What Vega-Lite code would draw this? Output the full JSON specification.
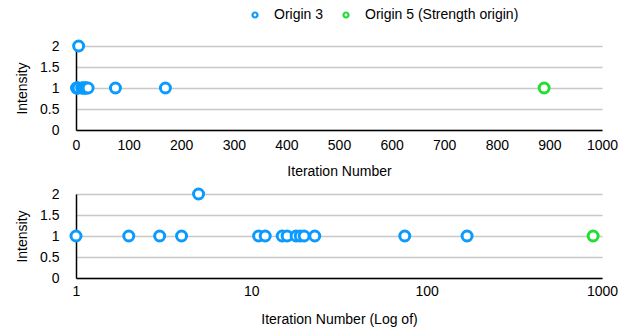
{
  "$schema": "https://vega.github.io/schema/vega-lite/v6.json",
  "padding": {"left": 15, "top": 8, "right": 5, "bottom": 5},
  "background": "white",
  "data": {
    "values": [
      {"iteration": 1, "intensity": 1, "origin": "Origin 3"},
      {"iteration": 2, "intensity": 1, "origin": "Origin 3"},
      {"iteration": 3, "intensity": 1, "origin": "Origin 3"},
      {"iteration": 4, "intensity": 1, "origin": "Origin 3"},
      {"iteration": 5, "intensity": 2, "origin": "Origin 3"},
      {"iteration": 11, "intensity": 1, "origin": "Origin 3"},
      {"iteration": 12, "intensity": 1, "origin": "Origin 3"},
      {"iteration": 15, "intensity": 1, "origin": "Origin 3"},
      {"iteration": 16, "intensity": 1, "origin": "Origin 3"},
      {"iteration": 18, "intensity": 1, "origin": "Origin 3"},
      {"iteration": 19, "intensity": 1, "origin": "Origin 3"},
      {"iteration": 20, "intensity": 1, "origin": "Origin 3"},
      {"iteration": 23, "intensity": 1, "origin": "Origin 3"},
      {"iteration": 75, "intensity": 1, "origin": "Origin 3"},
      {"iteration": 170, "intensity": 1, "origin": "Origin 3"},
      {"iteration": 890, "intensity": 1, "origin": "Origin 5 (Strength origin)"}
    ]
  },
  "spacing": 5,
  "vconcat": [
    {
      "width": 526,
      "height": 84,
      "mark": {"type": "point", "filled": false, "fill": "white", "fillOpacity": 1, "strokeWidth": 3, "size": 100, "opacity": 1},
      "encoding": {
        "x": {"field": "iteration", "type": "quantitative", "title": "Iteration Number",
              "scale": {"domain": [0, 1000], "nice": false, "zero": false},
              "axis": {"values": [0,100,200,300,400,500,600,700,800,900,1000], "format": "d", "grid": false}},
        "y": {"field": "intensity", "type": "quantitative", "title": "Intensity",
              "scale": {"domain": [0, 2]},
              "axis": {"values": [0, 0.5, 1, 1.5, 2], "format": "~g"}},
        "color": {"field": "origin", "type": "nominal",
                  "scale": {"domain": ["Origin 3", "Origin 5 (Strength origin)"], "range": ["#0b9bff", "#22dd33"]},
                  "legend": {"title": null, "orient": "none", "direction": "horizontal", "legendX": 172, "legendY": -38,
                             "labelFont": "Liberation Sans", "labelFontSize": 14, "labelOffset": 12, "columnPadding": 15}}
      }
    },
    {
      "width": 526,
      "height": 84,
      "mark": {"type": "point", "filled": false, "fill": "white", "fillOpacity": 1, "strokeWidth": 3, "size": 100, "opacity": 1},
      "encoding": {
        "x": {"field": "iteration", "type": "quantitative", "title": "Iteration Number (Log of)",
              "scale": {"type": "log", "domain": [1, 1000], "nice": false},
              "axis": {"values": [1, 10, 100, 1000], "format": "d", "grid": false, "labelPadding": 6, "titlePadding": 14}},
        "y": {"field": "intensity", "type": "quantitative", "title": "Intensity",
              "scale": {"domain": [0, 2]},
              "axis": {"values": [0, 0.5, 1, 1.5, 2], "format": "~g"}},
        "color": {"field": "origin", "type": "nominal",
                  "scale": {"domain": ["Origin 3", "Origin 5 (Strength origin)"], "range": ["#0b9bff", "#22dd33"]}}
      }
    }
  ],
  "config": {
    "font": "Liberation Sans",
    "view": {"stroke": null},
    "axis": {
      "labelFont": "Liberation Sans",
      "titleFont": "Liberation Sans",
      "labelFontSize": 14,
      "titleFontSize": 14,
      "titleFontWeight": "normal",
      "labelColor": "#000000",
      "titleColor": "#000000",
      "labelFlush": false,
      "ticks": false,
      "tickSize": 0,
      "domain": true,
      "domainColor": "#000000",
      "domainWidth": 1.5,
      "gridColor": "#c8c8c8",
      "gridWidth": 1.5
    },
    "axisX": {"labelPadding": 8, "titlePadding": 12, "labelAngle": 0},
    "axisY": {"labelPadding": 17, "titlePadding": 10, "grid": true, "domain": true},
    "legend": {
      "labelFont": "Liberation Sans",
      "labelFontSize": 14,
      "labelColor": "#000000",
      "symbolType": "circle",
      "symbolSize": 25,
      "symbolStrokeWidth": 2.2,
      "symbolFillColor": "white"
    }
  }
}
